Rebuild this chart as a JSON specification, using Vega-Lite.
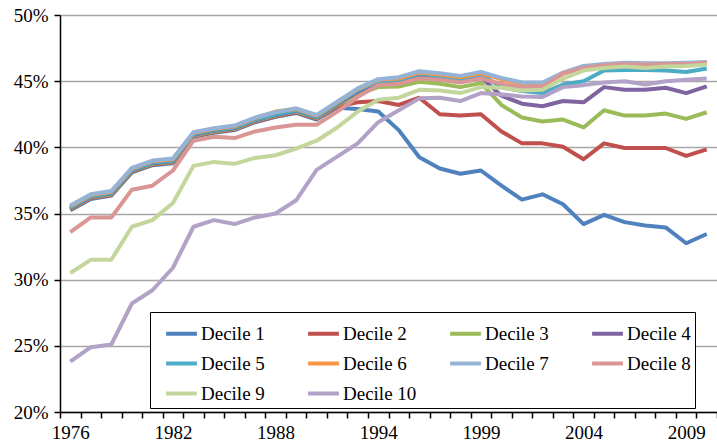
{
  "$schema": "https://vega.github.io/schema/vega-lite/v6.json",
  "width": 657,
  "height": 397,
  "autosize": "none",
  "padding": {"left": 60, "top": 15, "right": 0, "bottom": 30},
  "background": "white",
  "data": {"values": [
    {"s":"Decile 1","year":1976,"v":35.25},{"s":"Decile 1","year":1977,"v":36.1},{"s":"Decile 1","year":1978,"v":36.35},{"s":"Decile 1","year":1979,"v":38.1},{"s":"Decile 1","year":1980,"v":38.65},{"s":"Decile 1","year":1982,"v":38.8},{"s":"Decile 1","year":1983,"v":40.8},{"s":"Decile 1","year":1984,"v":41.1},{"s":"Decile 1","year":1985,"v":41.3},{"s":"Decile 1","year":1986,"v":41.9},{"s":"Decile 1","year":1988,"v":42.3},{"s":"Decile 1","year":1989,"v":42.6},{"s":"Decile 1","year":1990,"v":42.1},{"s":"Decile 1","year":1991,"v":43.0},{"s":"Decile 1","year":1992,"v":42.9},{"s":"Decile 1","year":1994,"v":42.7},{"s":"Decile 1","year":1995,"v":41.3},{"s":"Decile 1","year":1996,"v":39.25},{"s":"Decile 1","year":1997,"v":38.4},{"s":"Decile 1","year":1998,"v":38.0},{"s":"Decile 1","year":1999,"v":38.25},{"s":"Decile 1","year":2000,"v":37.1},{"s":"Decile 1","year":2001,"v":36.05},{"s":"Decile 1","year":2002,"v":36.45},{"s":"Decile 1","year":2003,"v":35.7},{"s":"Decile 1","year":2004,"v":34.2},{"s":"Decile 1","year":2005,"v":34.9},{"s":"Decile 1","year":2006,"v":34.35},{"s":"Decile 1","year":2007,"v":34.1},{"s":"Decile 1","year":2008,"v":33.95},{"s":"Decile 1","year":2009,"v":32.75},{"s":"Decile 1","year":2010,"v":33.45},
    {"s":"Decile 2","year":1976,"v":35.3},{"s":"Decile 2","year":1977,"v":36.15},{"s":"Decile 2","year":1978,"v":36.4},{"s":"Decile 2","year":1979,"v":38.15},{"s":"Decile 2","year":1980,"v":38.7},{"s":"Decile 2","year":1982,"v":38.85},{"s":"Decile 2","year":1983,"v":40.85},{"s":"Decile 2","year":1984,"v":41.15},{"s":"Decile 2","year":1985,"v":41.35},{"s":"Decile 2","year":1986,"v":41.95},{"s":"Decile 2","year":1988,"v":42.35},{"s":"Decile 2","year":1989,"v":42.65},{"s":"Decile 2","year":1990,"v":42.15},{"s":"Decile 2","year":1991,"v":43.1},{"s":"Decile 2","year":1992,"v":43.4},{"s":"Decile 2","year":1994,"v":43.5},{"s":"Decile 2","year":1995,"v":43.2},{"s":"Decile 2","year":1996,"v":43.75},{"s":"Decile 2","year":1997,"v":42.5},{"s":"Decile 2","year":1998,"v":42.4},{"s":"Decile 2","year":1999,"v":42.5},{"s":"Decile 2","year":2000,"v":41.2},{"s":"Decile 2","year":2001,"v":40.3},{"s":"Decile 2","year":2002,"v":40.3},{"s":"Decile 2","year":2003,"v":40.05},{"s":"Decile 2","year":2004,"v":39.1},{"s":"Decile 2","year":2005,"v":40.3},{"s":"Decile 2","year":2006,"v":39.95},{"s":"Decile 2","year":2007,"v":39.95},{"s":"Decile 2","year":2008,"v":39.95},{"s":"Decile 2","year":2009,"v":39.35},{"s":"Decile 2","year":2010,"v":39.85},
    {"s":"Decile 3","year":1976,"v":35.35},{"s":"Decile 3","year":1977,"v":36.2},{"s":"Decile 3","year":1978,"v":36.45},{"s":"Decile 3","year":1979,"v":38.2},{"s":"Decile 3","year":1980,"v":38.75},{"s":"Decile 3","year":1982,"v":38.9},{"s":"Decile 3","year":1983,"v":40.9},{"s":"Decile 3","year":1984,"v":41.2},{"s":"Decile 3","year":1985,"v":41.4},{"s":"Decile 3","year":1986,"v":42.0},{"s":"Decile 3","year":1988,"v":42.4},{"s":"Decile 3","year":1989,"v":42.7},{"s":"Decile 3","year":1990,"v":42.2},{"s":"Decile 3","year":1991,"v":43.2},{"s":"Decile 3","year":1992,"v":44.0},{"s":"Decile 3","year":1994,"v":44.55},{"s":"Decile 3","year":1995,"v":44.6},{"s":"Decile 3","year":1996,"v":44.95},{"s":"Decile 3","year":1997,"v":44.8},{"s":"Decile 3","year":1998,"v":44.55},{"s":"Decile 3","year":1999,"v":44.85},{"s":"Decile 3","year":2000,"v":43.2},{"s":"Decile 3","year":2001,"v":42.25},{"s":"Decile 3","year":2002,"v":41.95},{"s":"Decile 3","year":2003,"v":42.1},{"s":"Decile 3","year":2004,"v":41.5},{"s":"Decile 3","year":2005,"v":42.8},{"s":"Decile 3","year":2006,"v":42.4},{"s":"Decile 3","year":2007,"v":42.4},{"s":"Decile 3","year":2008,"v":42.55},{"s":"Decile 3","year":2009,"v":42.15},{"s":"Decile 3","year":2010,"v":42.65},
    {"s":"Decile 4","year":1976,"v":35.4},{"s":"Decile 4","year":1977,"v":36.25},{"s":"Decile 4","year":1978,"v":36.5},{"s":"Decile 4","year":1979,"v":38.25},{"s":"Decile 4","year":1980,"v":38.8},{"s":"Decile 4","year":1982,"v":38.95},{"s":"Decile 4","year":1983,"v":40.95},{"s":"Decile 4","year":1984,"v":41.25},{"s":"Decile 4","year":1985,"v":41.45},{"s":"Decile 4","year":1986,"v":42.05},{"s":"Decile 4","year":1988,"v":42.45},{"s":"Decile 4","year":1989,"v":42.75},{"s":"Decile 4","year":1990,"v":42.25},{"s":"Decile 4","year":1991,"v":43.25},{"s":"Decile 4","year":1992,"v":44.2},{"s":"Decile 4","year":1994,"v":44.9},{"s":"Decile 4","year":1995,"v":45.0},{"s":"Decile 4","year":1996,"v":45.4},{"s":"Decile 4","year":1997,"v":45.25},{"s":"Decile 4","year":1998,"v":45.05},{"s":"Decile 4","year":1999,"v":45.3},{"s":"Decile 4","year":2000,"v":43.9},{"s":"Decile 4","year":2001,"v":43.3},{"s":"Decile 4","year":2002,"v":43.1},{"s":"Decile 4","year":2003,"v":43.5},{"s":"Decile 4","year":2004,"v":43.4},{"s":"Decile 4","year":2005,"v":44.55},{"s":"Decile 4","year":2006,"v":44.35},{"s":"Decile 4","year":2007,"v":44.35},{"s":"Decile 4","year":2008,"v":44.5},{"s":"Decile 4","year":2009,"v":44.1},{"s":"Decile 4","year":2010,"v":44.6},
    {"s":"Decile 5","year":1976,"v":35.45},{"s":"Decile 5","year":1977,"v":36.3},{"s":"Decile 5","year":1978,"v":36.55},{"s":"Decile 5","year":1979,"v":38.3},{"s":"Decile 5","year":1980,"v":38.85},{"s":"Decile 5","year":1982,"v":39.0},{"s":"Decile 5","year":1983,"v":41.0},{"s":"Decile 5","year":1984,"v":41.3},{"s":"Decile 5","year":1985,"v":41.5},{"s":"Decile 5","year":1986,"v":42.1},{"s":"Decile 5","year":1988,"v":42.5},{"s":"Decile 5","year":1989,"v":42.8},{"s":"Decile 5","year":1990,"v":42.3},{"s":"Decile 5","year":1991,"v":43.3},{"s":"Decile 5","year":1992,"v":44.3},{"s":"Decile 5","year":1994,"v":45.0},{"s":"Decile 5","year":1995,"v":45.1},{"s":"Decile 5","year":1996,"v":45.55},{"s":"Decile 5","year":1997,"v":45.4},{"s":"Decile 5","year":1998,"v":45.15},{"s":"Decile 5","year":1999,"v":45.5},{"s":"Decile 5","year":2000,"v":44.55},{"s":"Decile 5","year":2001,"v":44.25},{"s":"Decile 5","year":2002,"v":44.1},{"s":"Decile 5","year":2003,"v":44.75},{"s":"Decile 5","year":2004,"v":45.0},{"s":"Decile 5","year":2005,"v":45.8},{"s":"Decile 5","year":2006,"v":45.85},{"s":"Decile 5","year":2007,"v":45.85},{"s":"Decile 5","year":2008,"v":45.8},{"s":"Decile 5","year":2009,"v":45.7},{"s":"Decile 5","year":2010,"v":45.95},
    {"s":"Decile 6","year":1976,"v":35.55},{"s":"Decile 6","year":1977,"v":36.4},{"s":"Decile 6","year":1978,"v":36.65},{"s":"Decile 6","year":1979,"v":38.4},{"s":"Decile 6","year":1980,"v":38.95},{"s":"Decile 6","year":1982,"v":39.1},{"s":"Decile 6","year":1983,"v":41.1},{"s":"Decile 6","year":1984,"v":41.4},{"s":"Decile 6","year":1985,"v":41.6},{"s":"Decile 6","year":1986,"v":42.2},{"s":"Decile 6","year":1988,"v":42.7},{"s":"Decile 6","year":1989,"v":42.9},{"s":"Decile 6","year":1990,"v":42.4},{"s":"Decile 6","year":1991,"v":43.4},{"s":"Decile 6","year":1992,"v":44.4},{"s":"Decile 6","year":1994,"v":45.1},{"s":"Decile 6","year":1995,"v":45.2},{"s":"Decile 6","year":1996,"v":45.65},{"s":"Decile 6","year":1997,"v":45.5},{"s":"Decile 6","year":1998,"v":45.3},{"s":"Decile 6","year":1999,"v":45.6},{"s":"Decile 6","year":2000,"v":45.15},{"s":"Decile 6","year":2001,"v":44.8},{"s":"Decile 6","year":2002,"v":44.8},{"s":"Decile 6","year":2003,"v":45.55},{"s":"Decile 6","year":2004,"v":46.05},{"s":"Decile 6","year":2005,"v":46.2},{"s":"Decile 6","year":2006,"v":46.3},{"s":"Decile 6","year":2007,"v":46.25},{"s":"Decile 6","year":2008,"v":46.25},{"s":"Decile 6","year":2009,"v":46.3},{"s":"Decile 6","year":2010,"v":46.35},
    {"s":"Decile 7","year":1976,"v":35.6},{"s":"Decile 7","year":1977,"v":36.45},{"s":"Decile 7","year":1978,"v":36.7},{"s":"Decile 7","year":1979,"v":38.45},{"s":"Decile 7","year":1980,"v":39.0},{"s":"Decile 7","year":1982,"v":39.15},{"s":"Decile 7","year":1983,"v":41.15},{"s":"Decile 7","year":1984,"v":41.45},{"s":"Decile 7","year":1985,"v":41.65},{"s":"Decile 7","year":1986,"v":42.25},{"s":"Decile 7","year":1988,"v":42.65},{"s":"Decile 7","year":1989,"v":42.95},{"s":"Decile 7","year":1990,"v":42.45},{"s":"Decile 7","year":1991,"v":43.45},{"s":"Decile 7","year":1992,"v":44.45},{"s":"Decile 7","year":1994,"v":45.15},{"s":"Decile 7","year":1995,"v":45.3},{"s":"Decile 7","year":1996,"v":45.75},{"s":"Decile 7","year":1997,"v":45.6},{"s":"Decile 7","year":1998,"v":45.4},{"s":"Decile 7","year":1999,"v":45.7},{"s":"Decile 7","year":2000,"v":45.25},{"s":"Decile 7","year":2001,"v":44.9},{"s":"Decile 7","year":2002,"v":44.9},{"s":"Decile 7","year":2003,"v":45.65},{"s":"Decile 7","year":2004,"v":46.15},{"s":"Decile 7","year":2005,"v":46.3},{"s":"Decile 7","year":2006,"v":46.4},{"s":"Decile 7","year":2007,"v":46.35},{"s":"Decile 7","year":2008,"v":46.35},{"s":"Decile 7","year":2009,"v":46.4},{"s":"Decile 7","year":2010,"v":46.45},
    {"s":"Decile 8","year":1976,"v":33.6},{"s":"Decile 8","year":1977,"v":34.7},{"s":"Decile 8","year":1978,"v":34.7},{"s":"Decile 8","year":1979,"v":36.8},{"s":"Decile 8","year":1980,"v":37.1},{"s":"Decile 8","year":1982,"v":38.25},{"s":"Decile 8","year":1983,"v":40.5},{"s":"Decile 8","year":1984,"v":40.8},{"s":"Decile 8","year":1985,"v":40.7},{"s":"Decile 8","year":1986,"v":41.2},{"s":"Decile 8","year":1988,"v":41.5},{"s":"Decile 8","year":1989,"v":41.7},{"s":"Decile 8","year":1990,"v":41.7},{"s":"Decile 8","year":1991,"v":42.7},{"s":"Decile 8","year":1992,"v":43.8},{"s":"Decile 8","year":1994,"v":44.7},{"s":"Decile 8","year":1995,"v":44.8},{"s":"Decile 8","year":1996,"v":45.2},{"s":"Decile 8","year":1997,"v":45.1},{"s":"Decile 8","year":1998,"v":44.9},{"s":"Decile 8","year":1999,"v":45.2},{"s":"Decile 8","year":2000,"v":44.8},{"s":"Decile 8","year":2001,"v":44.55},{"s":"Decile 8","year":2002,"v":44.55},{"s":"Decile 8","year":2003,"v":45.6},{"s":"Decile 8","year":2004,"v":46.0},{"s":"Decile 8","year":2005,"v":46.2},{"s":"Decile 8","year":2006,"v":46.3},{"s":"Decile 8","year":2007,"v":46.25},{"s":"Decile 8","year":2008,"v":46.3},{"s":"Decile 8","year":2009,"v":46.3},{"s":"Decile 8","year":2010,"v":46.4},
    {"s":"Decile 9","year":1976,"v":30.5},{"s":"Decile 9","year":1977,"v":31.5},{"s":"Decile 9","year":1978,"v":31.5},{"s":"Decile 9","year":1979,"v":34.0},{"s":"Decile 9","year":1980,"v":34.5},{"s":"Decile 9","year":1982,"v":35.8},{"s":"Decile 9","year":1983,"v":38.6},{"s":"Decile 9","year":1984,"v":38.9},{"s":"Decile 9","year":1985,"v":38.75},{"s":"Decile 9","year":1986,"v":39.2},{"s":"Decile 9","year":1988,"v":39.4},{"s":"Decile 9","year":1989,"v":39.9},{"s":"Decile 9","year":1990,"v":40.5},{"s":"Decile 9","year":1991,"v":41.5},{"s":"Decile 9","year":1992,"v":42.7},{"s":"Decile 9","year":1994,"v":43.6},{"s":"Decile 9","year":1995,"v":43.75},{"s":"Decile 9","year":1996,"v":44.35},{"s":"Decile 9","year":1997,"v":44.3},{"s":"Decile 9","year":1998,"v":44.1},{"s":"Decile 9","year":1999,"v":44.55},{"s":"Decile 9","year":2000,"v":44.5},{"s":"Decile 9","year":2001,"v":44.3},{"s":"Decile 9","year":2002,"v":44.35},{"s":"Decile 9","year":2003,"v":45.2},{"s":"Decile 9","year":2004,"v":45.8},{"s":"Decile 9","year":2005,"v":46.0},{"s":"Decile 9","year":2006,"v":46.1},{"s":"Decile 9","year":2007,"v":46.0},{"s":"Decile 9","year":2008,"v":46.1},{"s":"Decile 9","year":2009,"v":46.15},{"s":"Decile 9","year":2010,"v":46.25},
    {"s":"Decile 10","year":1976,"v":23.8},{"s":"Decile 10","year":1977,"v":24.9},{"s":"Decile 10","year":1978,"v":25.1},{"s":"Decile 10","year":1979,"v":28.2},{"s":"Decile 10","year":1980,"v":29.2},{"s":"Decile 10","year":1982,"v":30.9},{"s":"Decile 10","year":1983,"v":34.0},{"s":"Decile 10","year":1984,"v":34.5},{"s":"Decile 10","year":1985,"v":34.2},{"s":"Decile 10","year":1986,"v":34.7},{"s":"Decile 10","year":1988,"v":35.0},{"s":"Decile 10","year":1989,"v":36.0},{"s":"Decile 10","year":1990,"v":38.3},{"s":"Decile 10","year":1991,"v":39.3},{"s":"Decile 10","year":1992,"v":40.3},{"s":"Decile 10","year":1994,"v":41.9},{"s":"Decile 10","year":1995,"v":42.8},{"s":"Decile 10","year":1996,"v":43.7},{"s":"Decile 10","year":1997,"v":43.75},{"s":"Decile 10","year":1998,"v":43.5},{"s":"Decile 10","year":1999,"v":44.1},{"s":"Decile 10","year":2000,"v":44.0},{"s":"Decile 10","year":2001,"v":43.85},{"s":"Decile 10","year":2002,"v":43.8},{"s":"Decile 10","year":2003,"v":44.55},{"s":"Decile 10","year":2004,"v":44.7},{"s":"Decile 10","year":2005,"v":44.9},{"s":"Decile 10","year":2006,"v":45.0},{"s":"Decile 10","year":2007,"v":44.75},{"s":"Decile 10","year":2008,"v":45.0},{"s":"Decile 10","year":2009,"v":45.1},{"s":"Decile 10","year":2010,"v":45.2}
  ]},
  "mark": {"type": "line", "strokeWidth": 4, "strokeJoin": "round"},
  "encoding": {
    "x": {
      "field": "year", "type": "ordinal", "bandPosition": 0.5,
      "scale": {"type": "band", "paddingInner": 0, "paddingOuter": 0},
      "axis": {
        "title": null, "grid": false, "tickBand": "extent",
        "labelExpr": "indexof(['1976','1982','1988','1994','1999','2004','2009'], datum.label) >= 0 ? datum.label : ''",
        "labelAngle": 0, "labelFont": "Liberation Serif", "labelFontSize": 19, "labelColor": "black",
        "labelPadding": 5, "tickSize": 6, "tickColor": "black", "tickWidth": 1.5,
        "domainColor": "black", "domainWidth": 1.5, "labelOverlap": false
      }
    },
    "y": {
      "field": "v", "type": "quantitative",
      "scale": {"domain": [20, 50], "nice": false, "zero": false},
      "axis": {
        "title": null, "values": [20, 25, 30, 35, 40, 45, 50],
        "labelExpr": "datum.value + '%'",
        "labelFont": "Liberation Serif", "labelFontSize": 19, "labelColor": "black",
        "labelPadding": 6, "tickSize": 6, "tickColor": "black", "tickWidth": 1.5,
        "domainColor": "black", "domainWidth": 1.5,
        "gridColor": "#a6a6a6", "gridWidth": 1.5
      }
    },
    "color": {
      "field": "s", "type": "nominal",
      "scale": {
        "domain": ["Decile 1","Decile 2","Decile 3","Decile 4","Decile 5","Decile 6","Decile 7","Decile 8","Decile 9","Decile 10"],
        "range": ["#4F81BD","#C0504D","#9BBB59","#8064A2","#4BACC6","#F79646","#95B3D7","#D99694","#C3D69B","#B3A2C7"]
      },
      "legend": {
        "title": null, "orient": "none", "legendX": 90, "legendY": 297,
        "direction": "horizontal",
        "columns": 4, "gridAlign": "all", "columnPadding": 21, "rowPadding": 2,
        "symbolType": "stroke", "symbolStrokeWidth": 4, "symbolSize": 950, "symbolOffset": 10,
        "labelFont": "Liberation Serif", "labelFontSize": 19, "labelColor": "black",
        "labelOffset": 2, "labelLimit": 200,
        "strokeColor": "black", "fillColor": "white", "padding": 4
      }
    }
  },
  "config": {"view": {"stroke": null}}
}
